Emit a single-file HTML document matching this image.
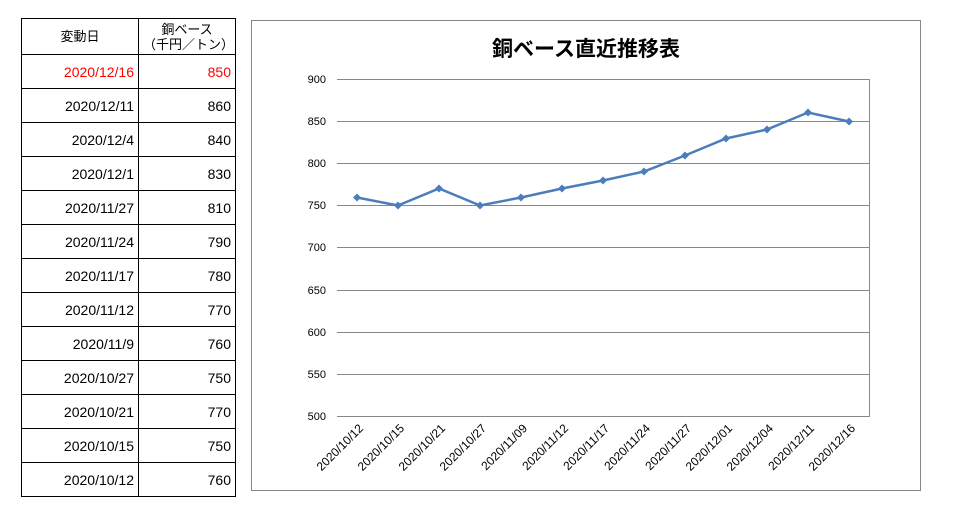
<!DOCTYPE html>
<html><head><meta charset="utf-8"><style>
body{margin:0;width:956px;height:515px;background:#fff;position:relative;font-family:"Liberation Sans","Noto Sans CJK JP",sans-serif;overflow:hidden}
table{position:absolute;left:21px;top:18px;border-collapse:collapse;font-size:14px}
td{border:1px solid #000;padding:0 4px;height:33px;text-align:right}
td:first-child{width:108px}td:last-child{width:88px}
.h td{text-align:center;height:35px;font-size:13px;line-height:15px}
.r{color:#f00}
</style></head><body>
<table>
<tr class="h"><td>変動日</td><td>銅ベース<br>（千円／トン）</td></tr>
<tr class="r"><td>2020/12/16</td><td>850</td></tr>
<tr><td>2020/12/11</td><td>860</td></tr>
<tr><td>2020/12/4</td><td>840</td></tr>
<tr><td>2020/12/1</td><td>830</td></tr>
<tr><td>2020/11/27</td><td>810</td></tr>
<tr><td>2020/11/24</td><td>790</td></tr>
<tr><td>2020/11/17</td><td>780</td></tr>
<tr><td>2020/11/12</td><td>770</td></tr>
<tr><td>2020/11/9</td><td>760</td></tr>
<tr><td>2020/10/27</td><td>750</td></tr>
<tr><td>2020/10/21</td><td>770</td></tr>
<tr><td>2020/10/15</td><td>750</td></tr>
<tr><td>2020/10/12</td><td>760</td></tr>
</table>
<svg width="956" height="515" style="position:absolute;left:0;top:0" font-family="Liberation Sans, Noto Sans CJK JP, sans-serif">
<rect x="251.5" y="20.5" width="669" height="470" fill="none" stroke="#888"/>
<text x="586" y="56" text-anchor="middle" font-size="21" font-weight="bold" font-family="Noto Sans CJK JP, sans-serif">銅ベース直近推移表</text>
<g stroke="#888" stroke-width="1">
<line x1="337" y1="79.5" x2="869" y2="79.5"/><line x1="337" y1="121.5" x2="869" y2="121.5"/><line x1="337" y1="163.5" x2="869" y2="163.5"/><line x1="337" y1="205.5" x2="869" y2="205.5"/><line x1="337" y1="247.5" x2="869" y2="247.5"/><line x1="337" y1="290.5" x2="869" y2="290.5"/><line x1="337" y1="332.5" x2="869" y2="332.5"/><line x1="337" y1="374.5" x2="869" y2="374.5"/><line x1="337" y1="416.5" x2="869" y2="416.5"/>
<line x1="869.5" y1="79" x2="869.5" y2="417"/>
</g>
<g font-size="11" text-anchor="end">
<text x="326" y="83">900</text><text x="326" y="125">850</text><text x="326" y="167">800</text><text x="326" y="209">750</text><text x="326" y="251">700</text><text x="326" y="294">650</text><text x="326" y="336">600</text><text x="326" y="378">550</text><text x="326" y="420">500</text>
</g>
<polyline fill="none" stroke="#4a7ebb" stroke-width="2.5" points="357,197.5 398,205.5 439,188.5 480,205.5 521,197.5 562,188.5 603,180.5 644,171.5 685,155.5 726,138.5 767,129.5 808,112.5 849,121.5"/>
<g fill="#4a7ebb">
<path d="M357,193.5l4,4l-4,4l-4-4z"/><path d="M398,201.5l4,4l-4,4l-4-4z"/><path d="M439,184.5l4,4l-4,4l-4-4z"/><path d="M480,201.5l4,4l-4,4l-4-4z"/><path d="M521,193.5l4,4l-4,4l-4-4z"/><path d="M562,184.5l4,4l-4,4l-4-4z"/><path d="M603,176.5l4,4l-4,4l-4-4z"/><path d="M644,167.5l4,4l-4,4l-4-4z"/><path d="M685,151.5l4,4l-4,4l-4-4z"/><path d="M726,134.5l4,4l-4,4l-4-4z"/><path d="M767,125.5l4,4l-4,4l-4-4z"/><path d="M808,108.5l4,4l-4,4l-4-4z"/><path d="M849,117.5l4,4l-4,4l-4-4z"/>
</g>
<g font-size="12" text-anchor="end">
<text transform="translate(364,429) rotate(-45)">2020/10/12</text>
<text transform="translate(405,429) rotate(-45)">2020/10/15</text>
<text transform="translate(446,429) rotate(-45)">2020/10/21</text>
<text transform="translate(487,429) rotate(-45)">2020/10/27</text>
<text transform="translate(528,429) rotate(-45)">2020/11/09</text>
<text transform="translate(569,429) rotate(-45)">2020/11/12</text>
<text transform="translate(610,429) rotate(-45)">2020/11/17</text>
<text transform="translate(651,429) rotate(-45)">2020/11/24</text>
<text transform="translate(692,429) rotate(-45)">2020/11/27</text>
<text transform="translate(733,429) rotate(-45)">2020/12/01</text>
<text transform="translate(774,429) rotate(-45)">2020/12/04</text>
<text transform="translate(815,429) rotate(-45)">2020/12/11</text>
<text transform="translate(856,429) rotate(-45)">2020/12/16</text>
</g>
</svg>
</body></html>
